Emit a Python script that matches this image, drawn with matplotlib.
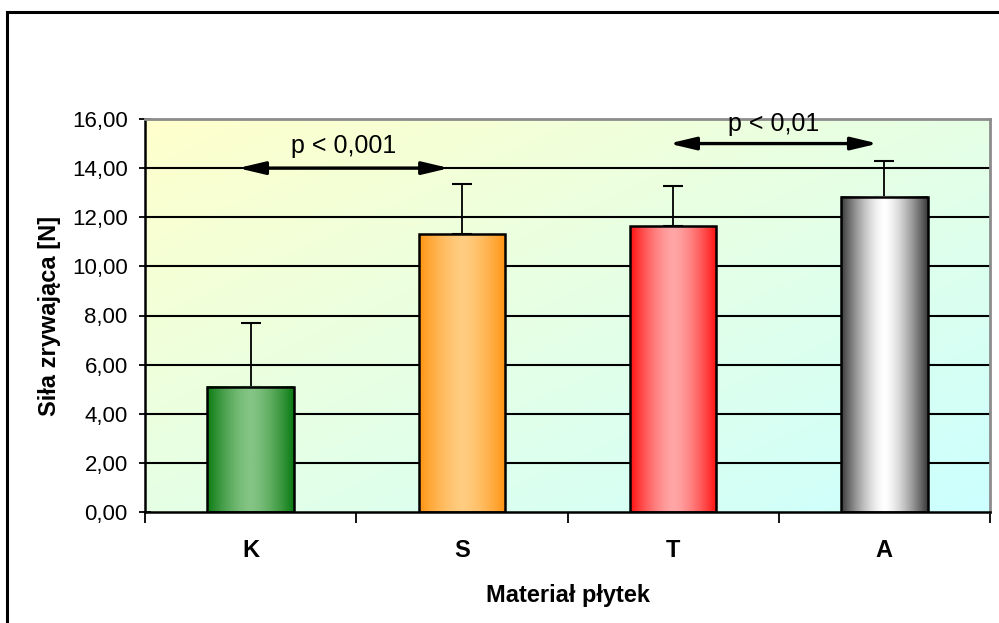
import numpy as np
import matplotlib
matplotlib.use("Agg")
import matplotlib.pyplot as plt
from matplotlib.colors import LinearSegmentedColormap
from matplotlib.patches import Rectangle

plt.rcParams['font.family'] = ['Liberation Sans', 'DejaVu Sans']

# dane
kategorie = ['K', 'S', 'T', 'A']
srednie = [5.10, 11.30, 11.63, 12.84]
odchylenia = [2.61, 2.05, 1.64, 1.46]
kolory_ciemne = ['#0a7a12', '#ff9412', '#ff1010', '#3a3a3a']
kolory_jasne = ['#84c484', '#ffcc80', '#ffa6a6', '#ffffff']
y_ticks = [0, 2, 4, 6, 8, 10, 12, 14, 16]
porownania = [(-0.06, 0.94, 14.0, 'p < 0,001', 14.9),
              (1.98, 2.97, 15.0, 'p < 0,01', 15.8)]

W, H = 999, 623
fig = plt.figure(figsize=(W / 100, H / 100), dpi=100)
ax = fig.add_axes([145 / W, (H - 512) / H, (990 - 145) / W, (512 - 119) / H])

# zewnętrzna ramka
fig.patches.append(Rectangle((7 / W, -0.1), 1.2, (H - 12) / H + 0.1,
                             transform=fig.transFigure, fill=False,
                             edgecolor='black', linewidth=2.2, zorder=0))

ax.set_xlim(-0.5, 3.5)
ax.set_ylim(0, 16)

# tło z gradientem (żółte -> cyjan)
tlo = LinearSegmentedColormap.from_list('tlo', ['#ffffcc', '#ccffff'])
gx, gy = np.meshgrid(np.linspace(0, 1, 200), np.linspace(0, 1, 200))
ax.imshow((gx + gy) / 2, cmap=tlo, extent=[-0.5, 3.5, 0, 16], origin='upper',
          aspect='auto', zorder=0, interpolation='bilinear')

for y in y_ticks[1:-1]:
    ax.axhline(y, color='black', linewidth=1.5, zorder=1)

szer = 0.41
t = np.linspace(-1, 1, 200)
profil = np.abs(t) ** 1.5
for i, (v, c1, c2) in enumerate(zip(srednie, kolory_ciemne, kolory_jasne)):
    cm = LinearSegmentedColormap.from_list('b%d' % i, [c2, c1])
    ax.imshow(profil[np.newaxis, :], cmap=cm, extent=[i - szer / 2, i + szer / 2, 0, v],
              aspect='auto', zorder=2, interpolation='bilinear')
ax.bar(range(4), srednie, width=szer, facecolor='none', edgecolor='black',
       linewidth=1.8, zorder=3)
ax.errorbar(range(4), srednie, yerr=[[0] * 4, odchylenia], fmt='none',
            ecolor='black', elinewidth=1.3, capsize=7, capthick=1.5, zorder=1.5)

for x0, x1, y, tekst, ty in porownania:
    ax.annotate('', xy=(x0, y), xytext=(x1, y),
                arrowprops=dict(arrowstyle='<|-|>,head_length=1.6,head_width=0.38',
                                color='black', lw=2.4, shrinkA=0, shrinkB=0),
                zorder=5, annotation_clip=False)
    ax.text((x0 + x1) / 2, ty, tekst, ha='center', va='center', fontsize=18,
            zorder=6, clip_on=False)

ax.set_yticks(y_ticks)
ax.set_yticklabels([('%.2f' % v).replace('.', ',') for v in y_ticks], fontsize=16)
ax.tick_params(axis='y', direction='inout', length=9, width=1.3, pad=8)

ax.set_xticks([-0.5, 0.5, 1.5, 2.5, 3.5])
ax.set_xticklabels([])
ax.tick_params(axis='x', which='major', direction='out', length=8, width=1.3)

# etykiety kategorii
for i, k in enumerate(kategorie):
    ax.text(i, -0.097, k, transform=ax.get_xaxis_transform(), ha='center',
            va='center', fontsize=17, fontweight='bold')

for s in ['left', 'bottom']:
    ax.spines[s].set_linewidth(1.8)
    ax.spines[s].set_color('black')
for s in ['top', 'right']:
    ax.spines[s].set_linewidth(2)
    ax.spines[s].set_color('#8c8c8c')

ax.set_ylabel('Siła zrywająca [N]', fontsize=17, fontweight='bold', labelpad=8)
ax.set_xlabel('Materiał płytek', fontsize=17, fontweight='bold', labelpad=40)

fig.savefig('out.png', dpi=100)
